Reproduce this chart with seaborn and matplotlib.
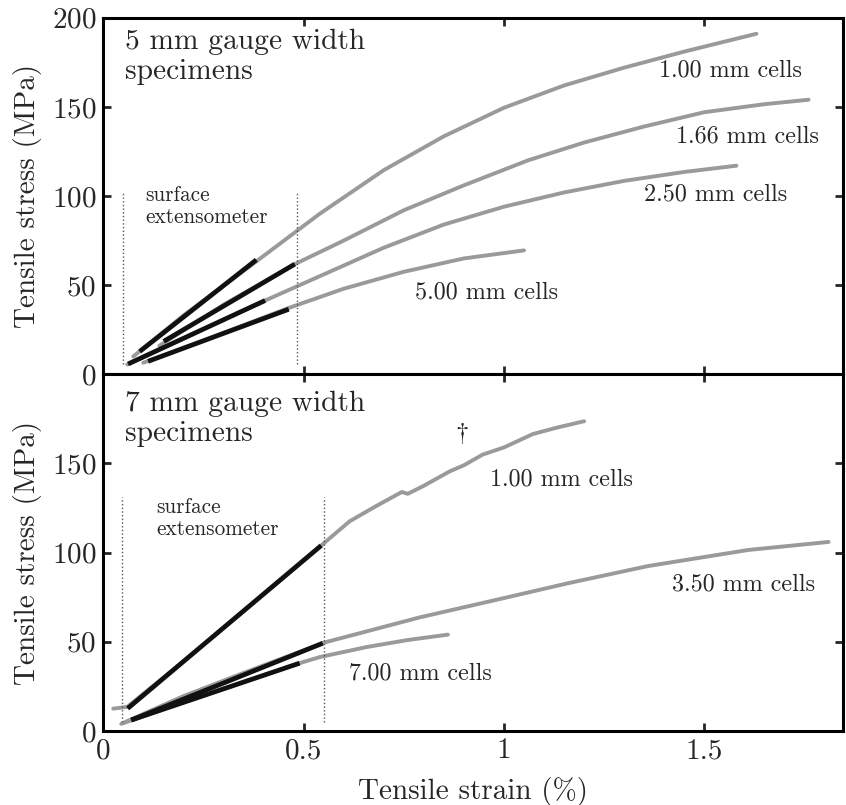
import matplotlib
matplotlib.use("Agg")
import matplotlib.pyplot as plt
import numpy as np
import pandas as pd
import seaborn as sns

# 5 mm gauge width specimens (stress in MPa vs strain in %)
top_100_x = [0.075, 0.2, 0.38, 0.54, 0.7, 0.85, 1.0, 1.15, 1.3, 1.45, 1.63]
top_100_y = [10, 33, 63, 90, 114.5, 133.5, 149.5, 162, 172, 181, 191]
top_166_x = [0.14, 0.3, 0.48, 0.6, 0.75, 0.9, 1.06, 1.2, 1.35, 1.5, 1.65, 1.76]
top_166_y = [16, 39, 62, 75, 92, 106, 120, 130, 139, 147, 151.5, 154]
top_250_x = [0.06, 0.2, 0.4, 0.55, 0.7, 0.85, 1.0, 1.15, 1.3, 1.45, 1.58]
top_250_y = [5.5, 20, 41, 56, 71, 84, 94, 102, 108.5, 113.5, 117]
top_500_x = [0.1, 0.25, 0.46, 0.6, 0.75, 0.9, 1.05]
top_500_y = [6.5, 19, 37, 48, 57.5, 65, 69.5]

# linear fits over the extensometer range
top_fit_x = [[0.091, 0.382], [0.151, 0.478], [0.062, 0.404], [0.112, 0.463]]
top_fit_y = [[12.8, 64.2], [18.5, 61.8], [5.8, 41.4], [7.3, 36.5]]

# 7 mm gauge width specimens
bot_100_x = [0.025, 0.06, 0.2, 0.35, 0.544, 0.615, 0.68, 0.745, 0.76, 0.8, 0.864,
             0.9, 0.947, 1.0, 1.072, 1.13, 1.2]
bot_100_y = [12.5, 13.5, 39, 67, 104, 117.6, 126, 134, 133, 137.5, 145.5,
             149, 155, 159, 166.5, 170, 173.7]
bot_350_x = [0.05, 0.2, 0.35, 0.552, 0.79, 0.99, 1.163, 1.36, 1.61, 1.81]
bot_350_y = [4.5, 19.5, 32.5, 49.6, 63.7, 74, 83, 92.5, 101.5, 106]
bot_700_x = [0.045, 0.2, 0.35, 0.49, 0.54, 0.656, 0.76, 0.86]
bot_700_y = [4, 16, 27.5, 38, 41.4, 47, 51, 54]

bot_fit_x = [[0.061, 0.544], [0.07, 0.548], [0.07, 0.49]]
bot_fit_y = [[12.6, 104], [6.1, 49.2], [6.1, 38]]

# surface extensometer limits
top_ext_x = [0.049, 0.483]
top_ext_y = [6, 102]
bot_ext_x = [0.047, 0.551]
bot_ext_y = [5, 131]

sns.set_style("ticks")
plt.rcParams['font.family'] = ['cmr10']
plt.rcParams['mathtext.fontset'] = 'cm'
plt.rcParams['axes.formatter.use_mathtext'] = True

GRAY = '#9a9a9a'
FS = 21
LAB = 17.3

fig, (ax1, ax2) = plt.subplots(2, 1, figsize=(8.46, 8.05), dpi=100, sharex=True)
fig.subplots_adjust(left=0.122, right=0.996, top=0.978, bottom=0.092, hspace=0)


def draw_curve(ax, x, y):
    sns.lineplot(x=x, y=y, ax=ax, color=GRAY, lw=2.8, sort=False, estimator=None)


def draw_fit(ax, x, y):
    sns.lineplot(x=x, y=y, ax=ax, color='#111111', lw=3.4, sort=False,
                 estimator=None, solid_capstyle='butt')


for x, y in [(top_100_x, top_100_y), (top_166_x, top_166_y),
             (top_250_x, top_250_y), (top_500_x, top_500_y)]:
    draw_curve(ax1, x, y)
for x, y in zip(top_fit_x, top_fit_y):
    draw_fit(ax1, x, y)
for xv in top_ext_x:
    ax1.plot([xv, xv], top_ext_y, ls=':', color='#555555', lw=1.0)

for x, y in [(bot_100_x, bot_100_y), (bot_350_x, bot_350_y), (bot_700_x, bot_700_y)]:
    draw_curve(ax2, x, y)
for x, y in zip(bot_fit_x, bot_fit_y):
    draw_fit(ax2, x, y)
for xv in bot_ext_x:
    ax2.plot([xv, xv], bot_ext_y, ls=':', color='#555555', lw=1.0)

# text
ax1.text(0.054, 194, '5 mm gauge width\nspecimens', fontsize=21.2, va='top',
         linespacing=1.2)
ax1.text(0.104, 106, 'surface\nextensometer', fontsize=15.3, va='top', linespacing=1.2)
ax1.text(1.388, 170.6, '1.00 mm cells', fontsize=LAB, va='center')
ax1.text(1.43, 133.3, '1.66 mm cells', fontsize=LAB, va='center')
ax1.text(1.35, 101, '2.50 mm cells', fontsize=LAB, va='center')
ax1.text(0.777, 45.8, '5.00 mm cells', fontsize=LAB, va='center')

ax2.text(0.054, 191, '7 mm gauge width\nspecimens', fontsize=21.2, va='top',
         linespacing=1.2)
ax2.text(0.133, 131, 'surface\nextensometer', fontsize=15.3, va='top', linespacing=1.2)
ax2.text(0.894, 166.7, r'$\dagger$', fontsize=19, ha='center', va='center')
ax2.text(0.964, 141, '1.00 mm cells', fontsize=LAB, va='center')
ax2.text(1.42, 82, '3.50 mm cells', fontsize=LAB, va='center')
ax2.text(0.614, 32.3, '7.00 mm cells', fontsize=LAB, va='center')

for ax in (ax1, ax2):
    ax.set_xlim(0, 1.845)
    ax.set_ylim(0, 200)
    ax.set_xticks([0, 0.5, 1, 1.5])
    ax.tick_params(direction='in', length=6, width=2, top=True, right=True,
                   labelsize=FS, pad=5)
    for s in ax.spines.values():
        s.set_linewidth(2.2)
        s.set_color('black')
    ax.set_ylabel('Tensile stress (MPa)', fontsize=FS, labelpad=7)

ax1.set_yticks([0, 50, 100, 150, 200])
ax2.set_yticks([0, 50, 100, 150])
ax2.set_xticklabels(['0', '0.5', '1', '1.5'])
ax2.set_xlabel('Tensile strain (%)', fontsize=FS, labelpad=9)

fig.savefig('out.png', dpi=100)
